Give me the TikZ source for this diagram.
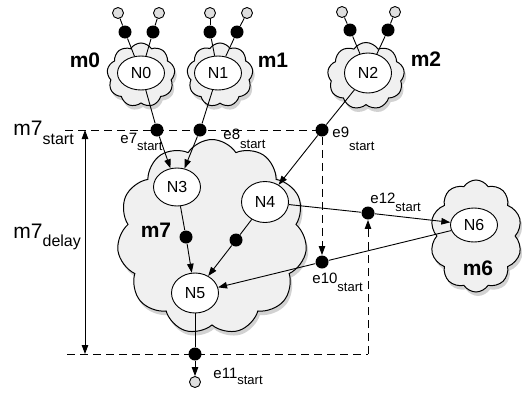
\documentclass[tikz,border=0pt]{standalone}
\usepackage{fontspec}
\setmainfont{Liberation Sans}
\usetikzlibrary{arrows.meta,shapes.symbols,shapes.geometric,shadows,backgrounds}

\tikzset{
	module/.style={cloud, cloud puffs=9, cloud puff arc=115, cloud ignores aspect, draw, line width=1pt, fill=gray!12,
		drop shadow={shadow xshift=2pt, shadow yshift=-4pt, fill=gray!70, opacity=0.5}},
	proc/.style={ellipse, draw, fill=white, minimum width=47pt, minimum height=38pt, inner sep=0pt, font=\fontsize{16}{16}\selectfont},
	tap/.style={circle, fill=black, minimum size=13pt, inner sep=0pt},
	pin/.style={circle, draw, fill=gray!25, minimum size=11pt, inner sep=0pt},
	modname/.style={font=\fontsize{21}{21}\selectfont\bfseries},
	elbl/.style={anchor=base west, inner sep=0pt, font=\fontsize{15}{15}\selectfont},
	tlbl/.style={anchor=base west, inner sep=0pt, font=\fontsize{21}{21}\selectfont},
	timing/.style={dash pattern=on 8pt off 5pt},
}
\newcommand{\lowsub}[2][8pt]{\raisebox{-#1}{\fontsize{13}{13}\selectfont #2}}
\newcommand{\bigsub}[2][9pt]{\raisebox{-#1}{\fontsize{16}{16}\selectfont #2}}

\begin{document}
\begin{tikzpicture}[x=1pt, y=-1pt, line width=0.9pt, >={Triangle[length=9pt,width=6.5pt]}]
	\useasboundingbox (0,0) rectangle (522,394);

	% modules
	\node[module, minimum width=68pt, minimum height=64pt]	(m0) at (141,75) {};
	\node[module, minimum width=66pt, minimum height=64pt]	(m1) at (220,75) {};
	\node[module, minimum width=77pt, minimum height=67pt]	(m2) at (366,76) {};
	\node[module, cloud puffs=11, minimum width=190pt, minimum height=195pt]	(m7) at (212,237) {};
	\node[module, cloud puffs=10, minimum width=92pt, minimum height=112pt]	(m6) at (476,236) {};

	\node[modname]	(m0l) at (85,60) {m0};
	\node[modname]	(m1l) at (273,60) {m1};
	\node[modname]	(m2l) at (426,59) {m2};
	\node[modname]	(m7l) at (156,230) {m7};
	\node[modname]	(m6l) at (478,268) {m6};

	% processes
	\node[proc, minimum height=34pt]	(N0) at (141,73) {N0};
	\node[proc, minimum height=34pt]	(N1) at (218,73) {N1};
	\node[proc, minimum height=40pt]	(N2) at (368,73) {N2};
	\node[proc]	(N3) at (177,187) {N3};
	\node[proc, minimum height=41pt]	(N4) at (265,202) {N4};
	\node[proc, minimum height=40pt]	(N5) at (195,293) {N5};
	\node[proc, minimum height=34pt]	(N6) at (474,225) {N6};

	% inputs of the top modules
	\node[pin]	(p0a) at (118,13) {};
	\node[pin]	(p0b) at (159,13) {};
	\node[tap]	(d0a) at (125,32) {};
	\node[tap]	(d0b) at (153,32) {};
	\node[pin]	(p1a) at (210,13) {};
	\node[pin]	(p1b) at (247,13) {};
	\node[tap]	(d1a) at (210,32) {};
	\node[tap]	(d1b) at (237,32) {};
	\node[pin]	(p2a) at (342,12) {};
	\node[pin]	(p2b) at (395,12) {};
	\node[tap]	(d2a) at (350,30) {};
	\node[tap]	(d2b) at (388,30) {};

	\draw (p0a) -- (d0a);	\draw (d0a) -- (N0);
	\draw (p0b) -- (d0b);	\draw (d0b) -- (N0);
	\draw (p1a) -- (d1a);	\draw (d1a) -- (N1);
	\draw (p1b) -- (d1b);	\draw (d1b) -- (N1);
	\draw (p2a) -- (d2a);	\draw (d2a) -- (N2);
	\draw (p2b) -- (d2b);	\draw (d2b) -- (N2);

	% events
	\node[tap]	(e7) at (157,130) {};
	\node[tap]	(e8) at (200,130) {};
	\node[tap]	(e9) at (322,130) {};
	\node[tap]	(e10) at (322,262) {};
	\node[tap]	(e11) at (195,354) {};
	\node[tap]	(e12) at (368,213) {};
	\node[tap]	(d3) at (186,237) {};
	\node[tap]	(d4) at (236,240) {};
	\node[pin]	(out) at (195,382) {};

	\draw (N0) -- (e7);	\draw[->] (e7) -- (N3);
	\draw (N1) -- (e8);	\draw[->] (e8) -- (N3);
	\draw (N2) -- (e9);	\draw[->] (e9) -- (N4);
	\draw (N3) -- (d3);	\draw[->] (d3) -- (N5);
	\draw (N4) -- (d4);	\draw[->] (d4) -- (N5);
	\draw (N4) -- (e12);	\draw[->] (e12) -- (N6);
	\draw (N6) -- (e10);	\draw[->] (e10) -- (N5);
	\draw (N5) -- (e11);	\draw[->] (e11) -- (out);

	\node[elbl]	(e7l) at (120,143) {e7\lowsub[7pt]{start}};
	\node[elbl]	(e8l) at (223,139) {e8\lowsub[9pt]{start}};
	\node[elbl]	(e9l) at (332,137) {e9\lowsub[13pt]{start}};
	\node[elbl]	(e10l) at (312,283) {e10\lowsub[8pt]{start}};
	\node[elbl]	(e11l) at (213,378) {e11\lowsub[6pt]{start}};
	\node[elbl]	(e12l) at (370,203) {e12\lowsub[8pt]{start}};

	% timing of m7
	\node[tlbl]	(m7s) at (13,135) {m7\bigsub{start}};
	\node[tlbl]	(m7d) at (13,238) {m7\bigsub[8pt]{delay}};
	\coordinate (tl) at (65,130);
	\coordinate (bl) at (67,354);
	\coordinate (br) at (368,354);
	\coordinate (ta) at (85,130);
	\coordinate (ba) at (85,354);
	\begin{scope}[on background layer]
		\draw[timing] (tl) -- (e9.center);
		\draw[timing] (bl) -- (br);
	\end{scope}
	\draw[timing,->] (e9) -- (e10);
	\draw[timing,->] (br) -- (e12);
	\draw[<->] (ta) -- (ba);
\end{tikzpicture}
\end{document}
